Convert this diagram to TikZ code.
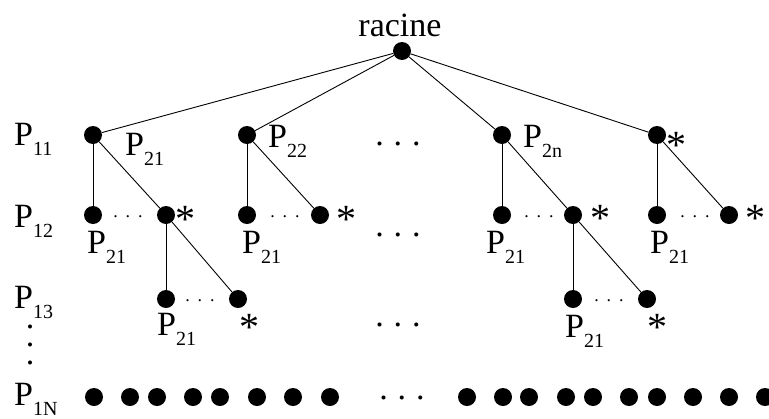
\documentclass[tikz,border=0pt]{standalone}
\usepackage{fontspec}
\setmainfont{Liberation Serif}
\usepackage{tikz}
\usetikzlibrary{positioning}

\newcommand{\Plab}[1]{P\raisebox{-10pt}{\fontsize{20}{20}\selectfont #1}}

\tikzset{
    pnode/.style={circle, fill=black, inner sep=0pt, minimum size=18pt},
    plabel/.style={font=\fontsize{34}{36}\selectfont, inner sep=0pt, anchor=base west},
    starlab/.style={font=\fontsize{40}{40}\selectfont, inner sep=0pt, anchor=base, text height=28pt, text depth=0pt},
    bigdots/.style={font=\fontsize{34}{36}\selectfont, inner sep=0pt, anchor=base, text height=5pt, text depth=0pt},
    smalldots/.style={font=\fontsize{18}{18}\selectfont, inner sep=0pt, anchor=base, text height=3pt, text depth=0pt},
    edge/.style={line width=0.9pt},
}

\begin{document}
\begin{tikzpicture}[x=1pt, y=-1pt]
    \useasboundingbox (0,0) rectangle (769,418);

    % Root
    \node[pnode] (root) at (402,51) {};
    \node[font=\fontsize{34}{36}\selectfont, inner sep=0pt, anchor=base] (rootlab) at (400,36) {racine};

    % First level
    \node[pnode] (a1) at (93,135) {};
    \node[pnode] (a2) at (247,135) {};
    \node[pnode] (a3) at (502,135) {};
    \node[pnode] (a4) at (657,135) {};

    % Second level
    \node[pnode] (b1) at (93,215) {};
    \node[pnode] (b2) at (166,215) {};
    \node[pnode] (b3) at (247,215) {};
    \node[pnode] (b4) at (320,215) {};
    \node[pnode] (b5) at (502,215) {};
    \node[pnode] (b6) at (573,215) {};
    \node[pnode] (b7) at (657,215) {};
    \node[pnode] (b8) at (729,215) {};

    % Third level
    \node[pnode] (c1) at (166,299) {};
    \node[pnode] (c2) at (238,299) {};
    \node[pnode] (c3) at (573,299) {};
    \node[pnode] (c4) at (647,299) {};

    % Last level
    \foreach \x [count=\i] in {94,130,157,193,220,257,293,330,467,503,529,566,593,629,657,693,729,765}
        \node[pnode] (d\i) at (\x,397) {};

    % Connectors
    \draw[edge] (root) -- (a1);
    \draw[edge] (root) -- (a2);
    \draw[edge] (root) -- (a3);
    \draw[edge] (root) -- (a4);
    \draw[edge] (a1) -- (b1);
    \draw[edge] (a1) -- (b2);
    \draw[edge] (a2) -- (b3);
    \draw[edge] (a2) -- (b4);
    \draw[edge] (a3) -- (b5);
    \draw[edge] (a3) -- (b6);
    \draw[edge] (a4) -- (b7);
    \draw[edge] (a4) -- (b8);
    \draw[edge] (b2) -- (c1);
    \draw[edge] (b2) -- (c2);
    \draw[edge] (b6) -- (c3);
    \draw[edge] (b6) -- (c4);

    % Row labels
    \node[plabel] (row1) at (14,145) {\Plab{11}};
    \node[plabel] (row2) at (14,227) {\Plab{12}};
    \node[plabel] (row3) at (14,308) {\Plab{13}};
    \node[plabel] (rowN) at (14,405) {\Plab{1N}};
    \node[bigdots] (vd1) at (30,328) {.};
    \node[bigdots] (vd2) at (30,346) {.};
    \node[bigdots] (vd3) at (30,364) {.};

    % Node labels
    \node[plabel] (la1) at (125,155) {\Plab{21}};
    \node[plabel] (la2) at (268,147) {\Plab{22}};
    \node[plabel] (la3) at (523,147) {\Plab{2n}};
    \node[starlab] (sa4) at (676,158) {*};

    \node[plabel] (lb1) at (87,253) {\Plab{21}};
    \node[plabel] (lb3) at (242,253) {\Plab{21}};
    \node[plabel] (lb5) at (486,253) {\Plab{21}};
    \node[plabel] (lb7) at (650,253) {\Plab{21}};
    \node[starlab] (sb2) at (185,232) {*};
    \node[starlab] (sb4) at (346,232) {*};
    \node[starlab] (sb6) at (600,231) {*};
    \node[starlab] (sb8) at (755,231) {*};

    \node[plabel] (lc1) at (157,335) {\Plab{21}};
    \node[plabel] (lc3) at (565,337) {\Plab{21}};
    \node[starlab] (sc2) at (249,340) {*};
    \node[starlab] (sc4) at (657,340) {*};

    % Ellipses
    \node[smalldots] (e1) at (128,217) {.\hspace{8pt}.\hspace{8pt}.};
    \node[smalldots] (e2) at (285,217) {.\hspace{8pt}.\hspace{8pt}.};
    \node[smalldots] (e3) at (539,217) {.\hspace{8pt}.\hspace{8pt}.};
    \node[smalldots] (e4) at (695,217) {.\hspace{8pt}.\hspace{8pt}.};
    \node[smalldots] (e5) at (200,301) {.\hspace{8pt}.\hspace{8pt}.};
    \node[smalldots] (e6) at (609,301) {.\hspace{8pt}.\hspace{8pt}.};

    \node[bigdots] (m1) at (398,145) {.\hspace{10pt}.\hspace{10pt}.};
    \node[bigdots] (m2) at (398,236) {.\hspace{10pt}.\hspace{10pt}.};
    \node[bigdots] (m3) at (398,326) {.\hspace{10pt}.\hspace{10pt}.};
    \node[bigdots] (m4) at (402,399) {.\hspace{10pt}.\hspace{10pt}.};
\end{tikzpicture}
\end{document}
